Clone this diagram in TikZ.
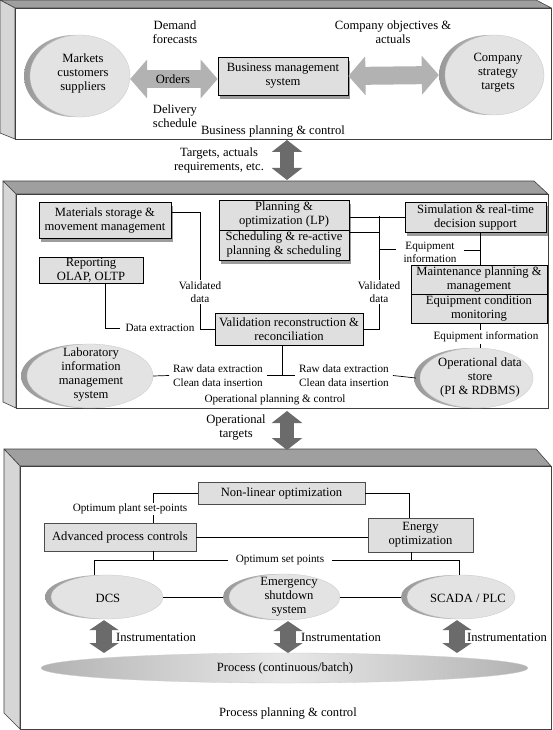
\documentclass[tikz,border=0pt]{standalone}
\usepackage{fontspec}
\setmainfont{Liberation Serif}
\usetikzlibrary{arrows.meta,shapes.geometric,shadows,calc}
\tikzset{
  txt/.style={font=\fontsize{12.6}{14}\selectfont, align=center, inner sep=1pt},
  sml/.style={font=\fontsize{11.2}{12.5}\selectfont, align=center, inner sep=2pt},
  box/.style={rectangle, draw=black, line width=0.8pt, fill=gray!25, inner sep=0pt},
  shbox/.style={box, drop shadow={shadow xshift=2pt, shadow yshift=-4pt, fill=black!55, opacity=0.7}},
  flatbox/.style={rectangle, draw=black!70, line width=0.6pt, fill=gray!25, inner sep=0pt},
  disk/.style={ellipse, inner sep=0pt, fill=gray!22, draw=gray!45, line width=0.3pt,
    general shadow={shadow xshift=-6pt, left color=gray!80, right color=gray!30}},
  conn/.style={draw=black, line width=0.7pt},
  wideArrow/.style={draw=gray!60, line width=18pt, {Triangle[width=38pt,length=17pt]}-{Triangle[width=38pt,length=17pt]}},
  darkArrow/.style={draw=black!58, line width=14pt, {Triangle[width=30pt,length=12pt]}-{Triangle[width=30pt,length=12pt]}},
  instArrow/.style={draw=black!58, line width=16pt, {Triangle[width=29pt,length=10pt]}-{Triangle[width=29pt,length=10pt]}},
  topface/.style={fill=gray!75, draw=black!75, line width=0.6pt, line join=round},
  sideface/.style={fill=gray!32, draw=black!75, line width=0.6pt, line join=round},
  frontface/.style={fill=white, draw=black!75, line width=0.6pt},
}
\begin{document}
\begin{tikzpicture}[x=1pt,y=-1pt]
\useasboundingbox[fill=white] (0,0) rectangle (552,730);

% ---------- panels ----------
\draw[topface] (0,0) -- (536,0) -- (551.5,8) -- (15,8) -- cycle;
\draw[sideface] (0,0) -- (15,8) -- (15,139) -- (0,133) -- cycle;
\draw[frontface] (15,8) rectangle (551.5,139);

\draw[topface] (3,181) -- (534,181) -- (548,194) -- (16,194) -- cycle;
\draw[sideface] (3,181) -- (16,194) -- (16,408) -- (3,402) -- cycle;
\draw[frontface] (16,194) rectangle (548,408);

\draw[topface] (4,449) -- (536,449) -- (551,466) -- (20,466) -- cycle;
\draw[sideface] (4,449) -- (20,466) -- (20,729) -- (4,713) -- cycle;
\draw[frontface] (20,466) rectangle (551,729);

% ---------- business level ----------
\node[disk, minimum width=100pt, minimum height=82pt] (markets) at (80,76) {};
\node[txt] (marketsT) at (83,73) {Markets\\customers\\suppliers};
\node[shbox, txt, minimum width=130pt, minimum height=38pt] (bms) at (283,76) {Business management\\system};
\node[disk, minimum width=99pt, minimum height=80pt] (company) at (494.5,75) {};
\node[txt] (companyT) at (498,72.5) {Company\\strategy\\targets};

\draw[wideArrow] ($(markets.east)+(0,3)$) -- ($(bms.west)+(0,3)$);
\node[txt] (orders) at (173,79) {Orders};
\draw[wideArrow] (bms.east) -- ($(company.west)+(-6,0)$);

\node[txt] (demand) at (175,32) {Demand\\forecasts};
\node[txt] (delivery) at (175,116) {Delivery\\schedule};
\node[txt] (compobj) at (393,32) {Company objectives \&\\actuals};
\node[txt] (bpc) at (273,131) {Business planning \& control};

\coordinate (t1) at (287,140);
\coordinate (t2) at (287,180);
\draw[darkArrow] (t1) -- (t2);
\node[txt] (targets) at (219,160) {Targets, actuals\\requirements, etc.};

% ---------- operational level ----------
\node[shbox, txt, minimum width=132pt, minimum height=36pt] (materials) at (105,220) {Materials storage \&\\movement management};
\node[box, txt, inner sep=0pt, minimum width=104pt, minimum height=26pt] (reporting) at (91,270) {Reporting\\OLAP, OLTP};

\node[shbox, minimum width=130pt, minimum height=60pt] (planning) at (284,230) {};
\draw[line width=0.8pt] (planning.west) -- (planning.east);
\node[txt] (planA) at (284,214.5) {Planning \&\\optimization (LP)};
\node[txt] (planB) at (284,244.5) {Scheduling \& re-active\\planning \& scheduling};

\node[shbox, txt, minimum width=141pt, minimum height=30pt] (sim) at (475.5,217) {Simulation \& real-time\\decision support};

\node[box, minimum width=136pt, minimum height=58pt] (maint) at (479,294) {};
\draw[line width=0.8pt] (maint.west) -- (maint.east);
\node[txt] (maintA) at (479,279.5) {Maintenance planning \&\\management};
\node[txt] (maintB) at (479,308.5) {Equipment condition\\monitoring};

\node[box, txt, minimum width=148pt, minimum height=32pt] (valid) at (289,329) {Validation reconstruction \&\\reconciliation};

\node[disk, minimum width=126pt, minimum height=64pt] (lab) at (90,376) {};
\node[txt] (labT) at (91,374) {Laboratory\\information\\management\\system};
\node[disk, minimum width=113pt, minimum height=60pt] (ods) at (476.5,378) {};
\node[txt] (odsT) at (480,377.5) {Operational data\\store\\(PI \& RDBMS)};

\node[sml] (vd1) at (200,292) {Validated\\data};
\node[sml] (vd2) at (379,292) {Validated\\data};
\node[sml, inner xsep=5pt] (dataext) at (160,328) {Data extraction};
\node[sml, inner xsep=7pt] (eq1) at (430,252.5) {Equipment\\information};
\node[sml] (eq2) at (486,337) {Equipment information};
\node[sml, inner xsep=4pt] (rawL) at (218,375.5) {Raw data extraction\\[2pt]Clean data insertion};
\node[sml, inner xsep=4pt] (rawR) at (344,375.5) {Raw data extraction\\[2pt]Clean data insertion};
\node[sml] (opc) at (275,400) {Operational planning \& control};

\draw[conn] ($(materials.east)+(0,-8)$) -| (vd1.north);
\draw[conn] (vd1.south) |- (valid.west);
\draw[conn] ($(reporting.south)+(14,0)$) |- (dataext.west);

\coordinate (vx) at (379,216);
\coordinate (p232) at (379,232);
\coordinate (e249) at (379,249);
\coordinate (mx) at (480,0);
\coordinate (e250) at (480,250);
\draw[conn] (planning.east |- sim.west) -- (sim.west);
\draw[conn] (planning.east |- p232) -- (p232);
\draw[conn] (vx) -- (vd2.north);
\draw[conn] (vd2.south) |- (valid.east);
\draw[conn] (e249) -- (eq1.west |- e249);
\draw[conn] (eq1.east |- e250) -- (e250);
\draw[conn] (sim.south -| mx) -- (maint.north -| mx);
\draw[conn] (maint.south -| mx) -- (eq2.north -| mx);
\draw[conn] (eq2.south -| mx) -- (ods.north -| mx);

\draw[conn] (lab.east) -- (rawL.west);
\draw[conn] (rawL.east) -- (rawR.west);
\draw[conn] (rawR.east) -- ($(ods.west)+(-4,0)$);
\coordinate (vs) at ($(valid.south)+(-7,0)$);
\draw[conn] (vs) -- (vs |- rawL.east);

\coordinate (o1) at (287,411);
\coordinate (o2) at (287,450);
\draw[darkArrow] (o1) -- (o2);
\node[txt] (optargets) at (236,427) {Operational\\targets};

% ---------- process level ----------
\node[flatbox, txt, minimum width=167pt, minimum height=22pt] (nonlin) at (281.5,493) {Non-linear optimization};
\node[flatbox, txt, minimum width=152pt, minimum height=28pt] (apc) at (120,537) {Advanced process controls};
\node[flatbox, txt, minimum width=105pt, minimum height=34pt] (energy) at (420.5,535) {Energy\\optimization};

\node[sml, inner ysep=0.5pt] (optplant) at (130,509) {Optimum plant set-points};
\coordinate (c1) at (153,0);
\coordinate (c2) at (409,0);
\coordinate (c3) at (411,0);
\draw[conn] (nonlin.west) -| (c1 |- optplant.north);
\draw[conn] (c1 |- optplant.south) -- (c1 |- apc.north);
\draw[conn] (apc.east) -- (apc.east -| energy.west);
\draw[conn] (nonlin.east) -| (c2 |- energy.north);

\node[sml, inner xsep=8pt] (optset) at (280,560) {Optimum set points};

\node[disk, minimum width=112pt, minimum height=44pt] (dcs) at (107,597) {};
\node[txt] (dcsT) at (108,598) {DCS};
\node[disk, minimum width=111pt, minimum height=46pt] (esd) at (284.5,597) {};
\node[txt] (esdT) at (289,596.5) {Emergency\\shutdown\\system};
\node[disk, minimum width=108pt, minimum height=44pt] (scada) at (461,597) {};
\node[txt] (scadaT) at (468,598) {SCADA / PLC};

\coordinate (h1) at (94,560);
\coordinate (h2) at (459,560);
\draw[conn] (dcs.north -| h1) |- (optset.west);
\draw[conn] (optset.east) -| (scada.north -| h2);
\draw[conn] (apc.south -| c1) -- (c1 |- optset.west);
\draw[conn] (energy.south -| c3) -- (c3 |- optset.east);
\draw[conn] (dcs.east) -- ($(esd.west)+(-6,0)$);
\draw[conn] (esd.east) -- ($(scada.west)+(-6,0)$);

\node[ellipse, inner sep=0pt, minimum width=487pt, minimum height=30pt,
  left color=gray!60, right color=gray!60, middle color=gray!18, draw=gray!40, line width=0.3pt] (process) at (284.5,668) {};
\node[txt] (processT) at (285,668) {Process (continuous/batch)};

\coordinate (ptop) at (0,653);
\coordinate (ia1) at ($(dcs.south)+(-3,1)$);
\coordinate (ia2) at ($(esd.south)+(3.5,1)$);
\coordinate (ia3) at ($(scada.south)+(-4,1)$);
\draw[instArrow] (ia1) -- (ia1 |- ptop);
\draw[instArrow] (ia2) -- (ia2 |- ptop);
\draw[instArrow] (ia3) -- (ia3 |- ptop);

\node[txt] (inst1) at (156,637) {Instrumentation};
\node[txt] (inst2) at (341,637) {Instrumentation};
\node[txt] (inst3) at (507,637) {Instrumentation};
\node[txt] (ppc) at (288,713) {Process planning \& control};
\end{tikzpicture}
\end{document}
